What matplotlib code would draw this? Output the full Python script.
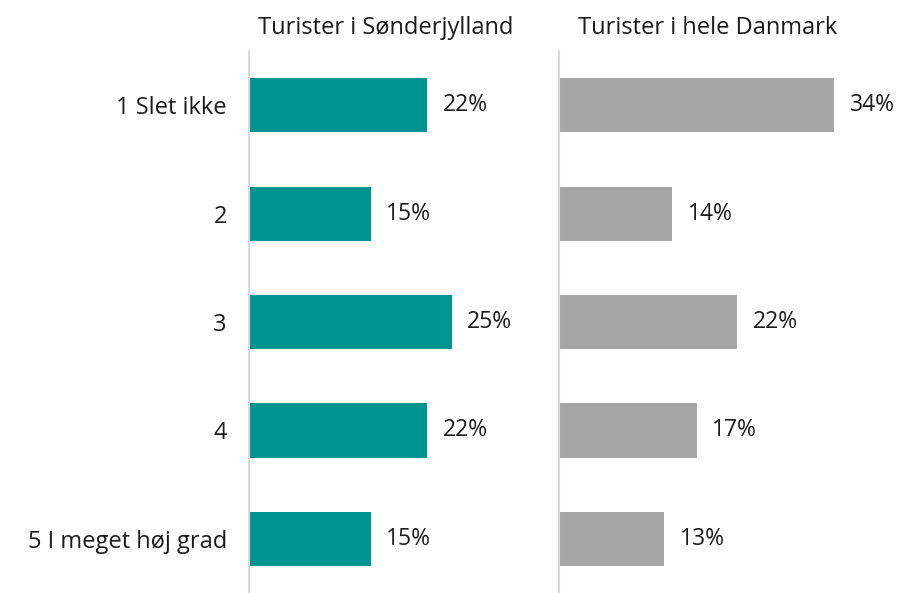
import matplotlib.pyplot as plt

# data
categories = ['1 Slet ikke', '2', '3', '4', '5 I meget høj grad']
sonderjylland = [22, 15, 25, 22, 15]
danmark = [34, 14, 22, 17, 13]
titles = ['Turister i Sønderjylland', 'Turister i hele Danmark']

plt.rcParams['font.family'] = ['Open Sans', 'DejaVu Sans']

fig = plt.figure(figsize=(8.99, 5.93), dpi=100)
W, H = 899, 593
xmax = 38
ax_w = xmax * 8.1 / W
top = 51 / H
ax1 = fig.add_axes([249 / W, 0, ax_w, 1 - top])
ax2 = fig.add_axes([559 / W, 0, ax_w, 1 - top])

for ax, vals, color, title, tx in [(ax1, sonderjylland, '#009490', titles[0], 9),
                                   (ax2, danmark, '#a6a6a6', titles[1], 19)]:
    y = range(len(categories))
    ax.barh(y, vals, height=0.5, color=color)
    for yi, v in zip(y, vals):
        ax.text(v + 1.9, yi, f'{v}%', va='center', ha='left', fontsize=16.5, color='#1a1a1a')
    ax.set_xlim(0, xmax)
    ax.set_ylim(4.5, -0.5)
    for s in ['top', 'right', 'bottom']:
        ax.spines[s].set_visible(False)
    ax.spines['left'].set_color('#d9d9d9')
    ax.spines['left'].set_linewidth(1.5)
    ax.set_xticks([])
    ax.tick_params(axis='y', length=0, pad=16, labelsize=17, labelcolor='#1a1a1a')
    ax.set_title(title, fontsize=17, color='#1a1a1a', pad=12, loc='left', x=tx / (ax_w * W))

ax1.set_yticks(range(len(categories)))
ax1.set_yticklabels(categories)
ax2.set_yticks([])

fig.savefig('out.png', dpi=100)
